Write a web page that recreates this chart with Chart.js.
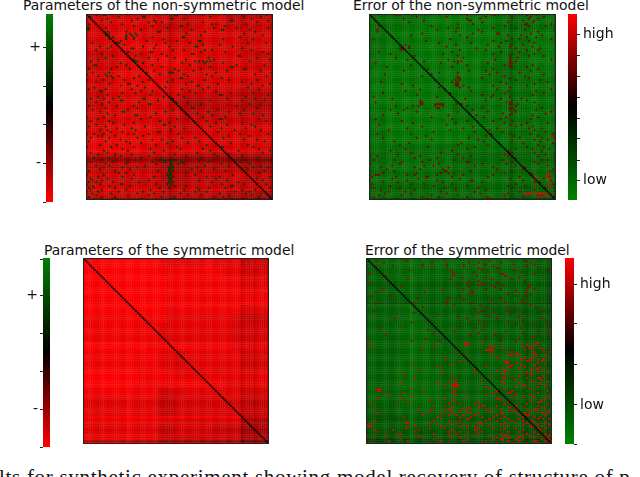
<!DOCTYPE html>
<html>
<head>
<meta charset="utf-8">
<script src="https://cdn.jsdelivr.net/npm/chart.js@4"></script>
<style>
html, body { margin: 0; padding: 0; background: #fff; width: 640px; height: 477px; overflow: hidden; }
canvas { position: absolute; }
canvas.heat { outline: 1px solid #222; outline-offset: -1px; filter: blur(0.35px); }
.title { position: absolute; font: 13.9px "DejaVu Sans"; color: #111; white-space: nowrap; line-height: 14px; }
#caption { position: absolute; left: -1px; top: 465px; font: 21px "Liberation Serif"; letter-spacing: 0.7px; color: #111; white-space: nowrap; }
</style>
</head>
<body>
<div class="title" style="left:23px;top:-2px">Parameters of the non-symmetric model</div>
<div class="title" style="left:353px;top:-2px">Error of the non-symmetric model</div>
<div class="title" style="left:44px;top:243px">Parameters of the symmetric model</div>
<div class="title" style="left:365px;top:243px">Error of the symmetric model</div>
<div id="caption">lts for synthetic experiment showing model recovery of structure of p</div>
<canvas id="heat1" class="heat" style="left:86px;top:14px" width="187" height="186"></canvas>
<canvas id="heat2" class="heat" style="left:369px;top:14px" width="187" height="186"></canvas>
<canvas id="heat3" class="heat" style="left:83px;top:258px" width="186" height="186"></canvas>
<canvas id="heat4" class="heat" style="left:366px;top:258px" width="186" height="186"></canvas>
<canvas id="bar1" style="left:23px;top:0px" width="30" height="216"></canvas>
<canvas id="bar2" style="left:568px;top:0px" width="60" height="214"></canvas>
<canvas id="bar3" style="left:20px;top:244px" width="30" height="217"></canvas>
<canvas id="bar4" style="left:565px;top:244px" width="60" height="214"></canvas>
<script>
// coarse background shade, one digit per 5x5 block of the 100x100 matrix
var shadeParamsNonSym = ["66666666655566644555","66667666555566655555","66677766666666666566","66667777766666665566","55566667777766666555","55566667776655666555","66677777666666666666","66677777766666666566","55666666665555554444","55666666653334444333","66666666664444454444","66666666664555555555","66777776665566666666","77777777666666666666","77777766666665666666","44444454443333333333","55555555333444444333","55555555233444455444","66665555444555555555","55555555444444433333"];
var shadeErrorNonSym = ["66666677777776656666","66667777777776656666","66777777777777666777","66777787777777666777","67777777777776666777","67777777777766566777","77777777777766566666","77777777777766666666","77777777777666666666","77778777777666667766","66777777766666666666","66777777766666666666","66777777777666666666","66777777777666666666","66666666666666666666","55666666655555555555","55666666655555555555","66666666666666666666","55555555555555555555","55555555555555544444"];
var shadeParamsSym = ["99999999877778777565","99999999888888877666","99999999988888888777","99999999988888888777","99999999988888888888","99999999988888888777","88888888877777776555","88888888777777776666","88888888777777776666","99999998888888887777","88888888776777777666","88888888776777777666","99999988887777777777","99999988888888877777","88888888666777777666","77777777556666666555","77777777556666666555","88888888777777777444","77777777556666555333","88888888666666666444"];
var shadeErrorSym = ["45555555555555554444","44555555555555554443","44445544444444444443","44444444444444444443","44444544444443444443","44445544444433333333","44445544444443343333","44455554444444444333","44445554444444344333","44445554444444444333","44445554444444444333","44455554444444444333","44455555444444444333","44455555444444444333","44445555444444333333","44445555444443333333","33344444444433333333","33334444433333333222","33333333333333333222","22233333333333333222"];

// thin bands that stand out from the background: [index, shade change]
var rowBandsParamsNonSym = [[77,-2],[78,-3],[79,-2],[82,-2],[86,2],[90,-1],[94,2],[99,-3],[27,1],[41,1],[73,1]];
var colBandsParamsNonSym = [[0,-1],[24,1],[44,-2],[45,-2],[63,1],[79,1],[83,-1],[99,-2]];
var rowBandsErrorNonSym = [[18,-1],[74,-1],[75,-2],[85,-1],[93,-1],[99,-3]];
var colBandsErrorNonSym = [[0,-2],[9,1],[75,-2],[76,-2],[81,-2],[99,-2]];
var rowBandsParamsSym = [[17,2],[24,2],[23,-1],[44,-1],[77,-1],[85,2],[87,-2],[89,-1],[92,-1],[96,-2],[98,-5]];
var colBandsParamsSym = [[8,-1],[24,2],[30,-1],[45,-1],[46,-1],[85,-2],[89,-2],[92,-1],[99,-1]];
var rowBandsErrorSym = [[14,-1],[24,-3],[25,1],[70,1],[87,-1],[94,-1],[97,-3],[98,-2],[99,1]];
var colBandsErrorSym = [[12,-1],[24,3],[86,-1],[97,-2],[98,-2]];

// cells far from the background: [row, [columns]]
var spotsParamsNonSym = [[0,[5,9,10,47,48,62,96]],[1,[2,17,30,31,66,84,93]],[2,[11,27,45,46,52,88]],[3,[8,24,36,77,78,97]],[4,[13,33,37,40,62,91]],[5,[1,19,54,67,69,85]],[6,[25,35,50,51,74]],[7,[0,1,10,43,68,80,97]],[8,[0,1,29,56,72,73,87]],[9,[11,21,38,39,63,90]],[10,[10,12,23,26,53,84]],[11,[10,11,21,24,27,61,94]],[12,[14,21,25,35,51,52,82]],[13,[12,21,25,41,73,89]],[14,[18,32,48,60,61]],[15,[3,16,17,42,55,86,96]],[16,[20,37,62,71]],[17,[7,13,30,44,58,59,78]],[18,[11,24,25,36,83]],[19,[5,19,46,52,63,67,88]],[20,[22,34,35,61,74,94]],[21,[8,29,40,56,57,97]],[22,[14,26,43,81,82]],[23,[10,33,47,65,91]],[24,[6,24,25,38,53,68,98]],[25,[2,25,26,27,58,60,62,64,66,87]],[26,[18,30,51,63,73]],[27,[4,5,21,35,55,80,95]],[28,[16,40,66,77,78]],[29,[1,13,23,47,61,84,85]],[30,[36,49,57,75,93]],[31,[3,12,32,44,45,46,69,99]],[32,[0,10,39,52,64,90]],[33,[6,11,13,17,28,54,67,96]],[34,[14,25,50,51,72]],[35,[0,9,20,33,46,63,76,91]],[36,[5,30,43,56,83]],[37,[12,22,23,53,70,88,98]],[38,[18,27,59,60,94]],[39,[4,31,42,65,86]],[40,[1,10,24,51,62,92]],[41,[7,8,29,35,55,69]],[42,[19,26,58,77,89]],[43,[11,34,49,71,72,97]],[44,[6,17,41,52,85]],[45,[2,9,14,30,31,45,46,75,90]],[46,[0,18,19,38,66,83,95]],[47,[5,12,28,48,54]],[48,[8,33,34,61,87,93]],[49,[1,16,25,49,80]],[50,[10,27,50,56,57,91]],[51,[3,22,46,51,70,84]],[52,[7,19,20,42,65,76]],[53,[11,37,53,59,82,89]],[54,[15,26,27,54,67,94]],[55,[0,9,34,62,74]],[56,[6,29,48,71,72,92]],[57,[2,12,39,57,64,96]],[58,[14,25,44,69,83]],[59,[5,20,41,42,75,88]],[60,[1,10,31,47,66,90]],[61,[16,24,52,72,85]],[62,[7,11,26,45,79,93]],[63,[13,19,38,39,70]],[64,[0,4,9,22,25,33,49,82,97]],[65,[6,8,15,30,76,87]],[66,[2,12,27,51,58,73]],[67,[18,35,40,84,91]],[68,[1,10,21,46,60,95]],[69,[23,29,43,54,77]],[70,[7,16,37,64,86]],[71,[0,13,25,48,72,73,89]],[72,[19,34,50,62,92]],[73,[9,22,41,66,81,98]],[74,[2,11,36,59,94]],[75,[6,15,24,47,68,76]],[76,[18,33,53,70,83]],[77,[4,12,29,40,61,91]],[78,[8,26,39,40,42,44,46,47,48,60,80,85,96]],[79,[2,14,22,35,41,42,45,50,51,65,82]],[80,[0,10,21,37,45,49,52,72,87]],[81,[5,12,31,45,46,63,76,93]],[82,[9,19,27,44,46,59,89,97]],[83,[7,23,44,45,56,68,86]],[84,[1,15,38,44,46,61,74,95]],[85,[17,21,45,53,85,92]],[86,[0,9,25,43,44,45,58,78]],[87,[6,19,36,44,46,64,71,98]],[88,[2,11,24,44,45,69,91]],[89,[3,8,33,45,60,75,94]],[90,[1,5,14,28,44,46,67,81]],[91,[0,7,18,19,37,43,45,72,84,96]],[92,[3,12,23,47,53,77,78]],[93,[1,4,15,39,44,59,65,74,98]],[94,[2,8,21,34,52,60,83,90]],[95,[0,6,17,30,41,58,64,79,87]],[96,[3,13,27,36,50,71,85,93]],[97,[5,22,33,54,61,76,88,97]],[98,[1,8,15,40,47,68,73,92]],[99,[4,16,29,45,46,52,66,78,90]]];

var spotsErrorNonSym = [[0,[14,16,52,66,67,84,89]],[1,[25,41,62,76,86,93]],[2,[18,52,59,85,90]],[3,[3,29,53,54,82,88]],[4,[21,60,74,87]],[5,[47,55,83,84,97]],[6,[5,33,72,85,94]],[7,[42,47,66,78]],[8,[4,36,58,83,99]],[9,[4,46,60,90]],[10,[28,55,68,69,86]],[11,[22,48,74,81,92]],[12,[12,52,84,89]],[13,[2,43,76,80,97]],[14,[30,66,73,85]],[15,[37,54,70,88]],[16,[19,46,63,76,82]],[17,[17,21,41,69,75,87]],[18,[16,17,18,21,57,78,91]],[19,[17,48,62,84,90]],[20,[5,44,70,80]],[21,[11,39,66,76,88]],[22,[24,47,75,85,93]],[23,[14,50,75,79]],[24,[20,42,67,75,97]],[25,[29,45,47,49,75,78]],[26,[3,38,47,63,75,76]],[27,[22,52,72,75,87]],[28,[9,44,75,76,84]],[29,[31,66,90]],[30,[18,53,62,86]],[31,[37,47,68,80]],[32,[8,33,64,93]],[33,[28,47,72,83]],[34,[47,48,60,75,85]],[35,[35,46,48,78,91]],[36,[6,44,47,70,95]],[37,[17,46,47,73,88]],[38,[23,46,47,50,66,84]],[39,[37,48,53,75]],[40,[27,40,68,97]],[41,[19,54,74,89]],[42,[7,43,72,93]],[43,[25,60,66,87]],[44,[2,36,65,75]],[45,[12,51,70,81]],[46,[27,62,76,84]],[47,[3,27,28,47,73,75,88]],[48,[27,28,35,36,37,38,39,46,48,49,75,76,79]],[49,[14,23,26,35,39,52,78]],[50,[20,36,37,60,75,76,92]],[51,[11,18,55,75,77,89]],[52,[25,47,63,78,97]],[53,[15,53,71,76,94]],[54,[7,42,57,75,87]],[55,[33,61,73,90]],[56,[3,44,70,86]],[57,[17,52,66,76]],[58,[23,46,72,84,95]],[59,[5,41,75,81]],[60,[28,55,78,87]],[61,[20,50,68,85,92]],[62,[10,43,64,88]],[63,[34,56,71,94]],[64,[4,22,65,75,86,98]],[65,[30,62,77,90,98]],[66,[7,25,53,80,92,99]],[67,[33,58,88,95]],[68,[13,61,76,91]],[69,[21,49,82,98]],[70,[16,47,63,90]],[71,[31,56,84,93]],[72,[19,52,78,87,96]],[73,[11,44,74,92]],[74,[22,38,75,76,88]],[75,[15,47,72,94]],[76,[0,4,27,54,74,90]],[77,[24,36,50,78,99]],[78,[2,13,32,45,71,92,95]],[79,[17,28,52,53,76,88]],[80,[0,16,37,60,73,90]],[81,[12,29,34,56,78,95]],[82,[6,24,42,66,83]],[83,[9,27,39,68,82,98]],[84,[13,40,41,54,76,96]],[85,[7,25,38,42,45,72,86]],[86,[3,4,5,20,24,36,50,66,87]],[87,[1,14,30,31,44,63,80,96]],[88,[12,26,48,75,93]],[89,[0,20,36,54,55,82,97]],[90,[7,15,39,60,88,91]],[91,[1,22,29,44,78,98]],[92,[11,34,52,74,83]],[93,[2,16,40,58,76,94]],[94,[6,24,46,62,88]],[95,[10,19,38,56,80]],[96,[8,22,41,59,74]],[97,[5,17,33,47,72,90]],[98,[2,28,37,52,63,82,99]],[99,[12,31,62,64,65,66,71,72,73,97]]];
var brightErrorNonSym = [[65,[98]],[86,[95,96]],[87,[88,95]],[88,[90,96]],[90,[90,96]],[92,[95]],[93,[88,97]],[96,[83,84,85,86,88,90,91,92,93,97]],[97,[94,95]],[98,[90,92]]];

var spotsErrorSym = [[0,[19,41,62,63,78,90]],[1,[5,21,66,85]],[2,[9,35,55,60,72,88]],[3,[30,43,52,63,64,79,90]],[4,[5,14,30,35,43,52,68,86]],[5,[60,70,71,92]],[6,[23,45,62,79,98]],[7,[46,58,65,83]],[8,[1,47,72,73,90]],[9,[10,46,59,74,75]],[10,[51,64,82]],[11,[22,45,67,78]],[12,[55,60,85]],[13,[2,54,62,70]],[14,[48,60,63,67,73,88]],[15,[19,55,69,87]],[16,[9,52,64,72,90]],[17,[41,56,80,86]],[18,[5,31,57,85]],[19,[55,76,88]],[20,[2,13,50,81,86]],[21,[27,44,72]],[22,[52,67,84]],[23,[43,74,83]],[24,[5,26,43,56,85]],[25,[47,61,88]],[26,[30,65,76,91]],[27,[58,68,80]],[28,[4,62,75,95]],[29,[25,60,84]],[30,[38,64,77]],[31,[49,66,82]],[32,[15,54,70,94]],[33,[33,60,84,96]],[34,[24,63,76]],[35,[55,80,90,99]],[36,[18,50,64]],[37,[7,58,83]],[38,[33,62,97]],[39,[47,75,92]],[40,[36,60,84,98]],[41,[10,56,69]],[42,[42,64,89]],[43,[32,50,82,99]],[44,[24,39,72,80]]];
var brightErrorSym = [[45,[1,53,54,62,91,92]],[46,[53,54,66,86,90]],[47,[36,68,84,88]],[48,[3,30,67,72,88,89,93]],[49,[64,65,66,67,68,85,95]],[50,[48,76,78,89,98]],[51,[67,80,81,90]],[52,[52,77,78,82,91,96]],[53,[70,85,89]],[54,[42,55,83,88,92,95]],[55,[50,74,75,86,87,94]],[56,[75,76,81,92,96]],[57,[24,46,78,83,90]],[58,[38,64,76,77,85,93]],[59,[58,82,88,91,92]],[60,[28,70,74,75,94]],[61,[40,72,86,92,97]],[62,[20,58,74,84,88,89]],[63,[46,66,78,82,95]],[64,[26,73,74,86,92,93]],[65,[48,62,80,88,94]],[66,[18,44,72,90,97]],[67,[38,47,48,74,82,93]],[68,[46,47,48,49,84,85,96]],[69,[42,47,48,64,80,92]],[70,[6,7,24,66,74,88]],[71,[6,7,30,47,70,78,97]],[72,[20,46,68,76,77,92]],[73,[12,48,64,80,88]],[74,[24,54,78,84,90,98]],[75,[6,18,42,70,71,96]],[76,[34,46,47,72,88,94]],[77,[2,22,60,76,92,93]],[78,[16,44,50,58,74,86,97]],[79,[36,42,62,63,70,80,81,92]],[80,[4,46,54,55,60,76,77,94,96]],[81,[28,44,45,52,64,72,80,86,90,91]],[82,[34,42,50,54,66,67,78,80,88,92,98]],[83,[6,40,46,56,60,72,73,85,94,97]],[84,[30,44,48,52,58,70,82,86,87,96]],[85,[20,38,50,56,62,68,74,84,90,93]],[86,[40,54,55,66,72,76,82,92,95,98]],[87,[4,36,44,50,64,70,78,84,88,89]],[88,[21,22,34,48,60,61,74,80,86,90,96]],[89,[0,1,26,46,52,62,66,72,84,92,98]],[90,[1,2,22,40,50,58,76,88,89,94]],[91,[21,34,42,54,60,68,74,80,92,96]],[92,[4,14,28,46,58,59,72,84,93]],[93,[6,26,44,50,62,76,82,90,94,99]],[94,[16,18,36,48,54,60,72,86,92,96]],[95,[0,10,28,44,58,66,74,75,84,88,98]],[96,[4,30,46,50,70,76,77,82,90,96,97]],[97,[18,36,54,68,72,73,80,81,84,94,97,98]],[98,[12,22,40,52,64,76,82,90,91,96,99]],[99,[2,34,38,44,62,70,78,86,92,98]]];

// matrix diagonal is zero in all four panels
var diagonal = [];
for (var i = 0; i < 100; i++) diagonal.push(i);

// colorbar ticks in value units, and the text they carry
var ticksBar1 = [-1, -0.59, -0.18, 0.23, 0.64];
var labelsBar1 = ["", "-", "", "", "+"];
var ticksBar2 = [-0.79, -0.57, -0.34, -0.12, 0.1, 0.33, 0.55, 0.78];
var labelsBar2 = ["low", "", "", "", "", "", "", "high"];
var ticksBar3 = [-1, -0.6, -0.2, 0.2, 0.6, 0.98];
var labelsBar3 = ["", "-", "", "", "+", ""];
var ticksBar4 = [-1, -0.58, -0.14, 0.3, 0.72];
var labelsBar4 = ["", "low", "", "", "high"];

function paramColor(v) {
  return v < 0 ? "rgb(" + Math.round(-v * 255) + ",0,0)" : "rgb(0," + Math.round(v * 128) + ",0)";
}
function errorColor(v) {
  return v > 0 ? "rgb(" + Math.round(v * 255) + ",0,0)" : "rgb(0," + Math.round(-v * 128) + ",0)";
}
function shadeOf(d) {
  return Math.min(0.98, Math.max(0.3, 0.5 + d * 0.055));
}
function bandMap(bands) {
  var m = {};
  bands.forEach(function (b) { m[b[0]] = b[1]; });
  return m;
}

function heatmap(id, panel) {
  var rb = bandMap(panel.rowBands), cb = bandMap(panel.colBands);
  var cells = [];
  for (var r = 0; r < 100; r++) {
    for (var c = 0; c < 100; c++) {
      var d = +panel.shade[Math.floor(r / 5)][Math.floor(c / 5)] + (rb[r] || 0) + (cb[c] || 0);
      cells.push({ x: c + 0.5, y: r + 0.5, v: panel.sign * shadeOf(d) });
    }
  }
  function spotCells(list, v) {
    var out = [];
    list.forEach(function (row) {
      row[1].forEach(function (c) { out.push({ x: c + 0.5, y: row[0] + 0.5, v: v }); });
    });
    return out;
  }
  var spots = spotCells(panel.spots, panel.spotValue).concat(spotCells(panel.bright, panel.brightValue));
  var diag = diagonal.map(function (i) { return { x: i + 0.5, y: i + 0.5, v: 0 }; });
  function ds(points, size) {
    return {
      data: points,
      pointStyle: "rect",
      pointRadius: size,
      pointBorderWidth: 0,
      pointBackgroundColor: points.map(function (p) { return panel.color(p.v); })
    };
  }
  new Chart(id, {
    type: "scatter",
    // first dataset is painted last
    data: { datasets: [ds(diag, 1.3), ds(spots, 1.35), ds(cells, 1.55)] },
    options: {
      responsive: false,
      animation: false,
      events: [],
      layout: { padding: 0, autoPadding: false },
      plugins: { legend: { display: false }, tooltip: { enabled: false } },
      scales: {
        x: { type: "linear", min: 0, max: 100, display: false },
        y: { type: "linear", min: 0, max: 100, reverse: true, display: false }
      }
    }
  });
}

function colorbar(id, color, side, ticks, labels, fontSize, width) {
  var levels = [];
  for (var i = 0; i < 64; i++) levels.push(-1 + i * 2 / 64);
  new Chart(id, {
    type: "bar",
    data: {
      labels: ["bar"],
      datasets: levels.map(function (lo) {
        return { data: [[lo, lo + 2 / 64 + 0.005]], backgroundColor: color(lo + 1 / 64), borderWidth: 0, barPercentage: 1, categoryPercentage: 1, grouped: false };
      })
    },
    options: {
      responsive: false,
      animation: false,
      events: [],
      layout: { padding: { top: 14, bottom: 14 }, autoPadding: false },
      plugins: { legend: { display: false }, tooltip: { enabled: false } },
      scales: {
        x: { display: false },
        y: {
          type: "linear",
          min: -1,
          max: 1,
          position: side,
          afterFit: function (scale) { scale.width = width; },
          afterBuildTicks: function (scale) { scale.ticks = ticks.map(function (t) { return { value: t }; }); },
          border: { display: false },
          grid: { drawOnChartArea: false, drawTicks: true, tickLength: 3, color: "#222" },
          ticks: {
            autoSkip: false,
            padding: side == "left" ? 2 : 3,
            color: "#111",
            font: { family: "DejaVu Sans", size: fontSize },
            callback: function (v) { return labels[ticks.indexOf(v)]; }
          }
        }
      }
    }
  });
}

heatmap("heat1", { shade: shadeParamsNonSym, rowBands: rowBandsParamsNonSym, colBands: colBandsParamsNonSym, sign: -1, color: paramColor, spots: spotsParamsNonSym, spotValue: 0.45, bright: [], brightValue: 0.45 });
heatmap("heat2", { shade: shadeErrorNonSym, rowBands: rowBandsErrorNonSym, colBands: colBandsErrorNonSym, sign: -1, color: errorColor, spots: spotsErrorNonSym, spotValue: 0.5, bright: brightErrorNonSym, brightValue: 0.9 });
heatmap("heat3", { shade: shadeParamsSym, rowBands: rowBandsParamsSym, colBands: colBandsParamsSym, sign: -1, color: paramColor, spots: [], spotValue: 0, bright: [], brightValue: 0 });
heatmap("heat4", { shade: shadeErrorSym, rowBands: rowBandsErrorSym, colBands: colBandsErrorSym, sign: -1, color: errorColor, spots: spotsErrorSym, spotValue: 0.6, bright: brightErrorSym, brightValue: 0.9 });

colorbar("bar1", paramColor, "left", ticksBar1, labelsBar1, 14, 23);
colorbar("bar2", errorColor, "right", ticksBar2, labelsBar2, 14, 51);
colorbar("bar3", paramColor, "left", ticksBar3, labelsBar3, 14, 23);
colorbar("bar4", errorColor, "right", ticksBar4, labelsBar4, 14, 51);
</script>
</body>
</html>
